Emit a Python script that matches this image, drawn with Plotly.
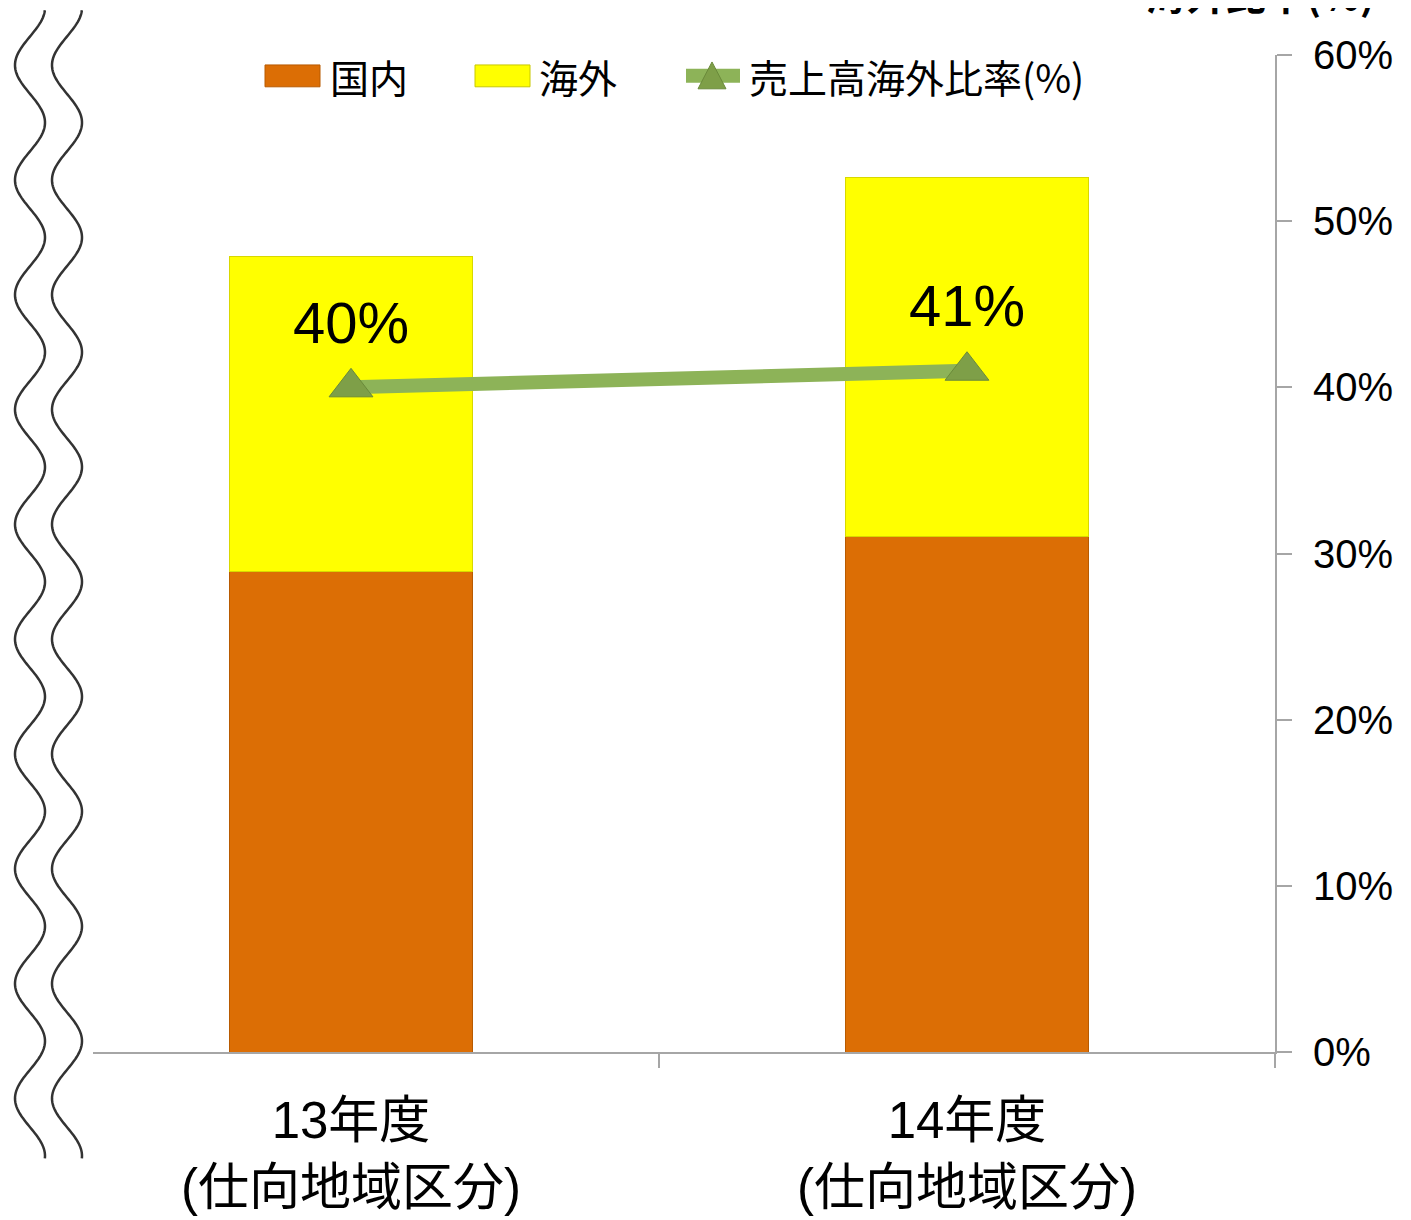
import numpy as np
import plotly.graph_objects as go

# ---- data ----
categories = ["13年度<br>(仕向地域区分)", "14年度<br>(仕向地域区分)"]
domestic = [2890, 3105]        # 国内
overseas = [1900, 2160]        # 海外
overseas_ratio = [0.40, 0.41]  # 売上高海外比率(%)
ratio_labels = ["40%", "41%"]
y2_ticks = [0, 0.1, 0.2, 0.3, 0.4, 0.5, 0.6]
legend_names = ["国内", "海外", "売上高海外比率(%)"]

# ---- geometry (page pixels; the page body keeps its default 8px margin) ----
W, H = 1411, 1220
OFF = 8
SY = 0.994            # small vertical shrink seen in the captured page


def yp(y):
    return y / SY


L, R = 43, 1275
T, B = yp(55), yp(1058)
pw, ph = R - L, B - T


def px(x):
    return (x - L) / pw


def py(y):
    return (B - yp(y)) / ph


FONT = "Liberation Sans, Arial, Noto Sans CJK JP, sans-serif"
CJK = "Noto Sans CJK JP, sans-serif"
ORANGE, YELLOW = "#DC6E05", "#FFFF00"
GREEN_LINE, GREEN_MARK = "#8DB358", "#7E9F48"

fig = go.Figure()
fig.add_trace(go.Bar(
    x=categories, y=domestic, name=legend_names[0],
    marker=dict(color=ORANGE, line=dict(color="#B85A00", width=1)),
    width=0.396,
))
fig.add_trace(go.Bar(
    x=categories, y=overseas, name=legend_names[1],
    marker=dict(color=YELLOW, line=dict(color="#D8D800", width=1)),
    width=0.396,
))
fig.add_trace(go.Scatter(
    x=categories, y=overseas_ratio, name=legend_names[2], yaxis="y2",
    mode="lines+markers",
    line=dict(color=GREEN_LINE, width=14),
    marker=dict(symbol="triangle-up", size=38, color=GREEN_MARK,
                line=dict(color="#6A8A3A", width=1)),
))

annotations = []
for c, v, t in zip(categories, overseas_ratio, ratio_labels):
    annotations.append(dict(
        x=c, y=v, xref="x", yref="y2", text=t, showarrow=False,
        yshift=65, font=dict(size=58, color="#000000", family=FONT),
    ))
annotations.append(dict(
    x=px(1260), y=py(-7), xref="paper", yref="paper", text="<b>海外比率(%)</b>",
    showarrow=False, xanchor="center", yanchor="middle",
    font=dict(size=40, color="#000000", family=CJK),
))

shapes = []
# ---- custom legend ----
leg_y = 76
for (x0, x1, col, edge), tx, name in zip(
        [(265, 320, ORANGE, "#B85A00"), (475, 530, YELLOW, "#C8C800")],
        [328, 537], legend_names[:2]):
    shapes.append(dict(type="rect", xref="paper", yref="paper",
                       x0=px(x0), x1=px(x1), y0=py(leg_y + 11), y1=py(leg_y - 11),
                       fillcolor=col, line=dict(color=edge, width=1)))
    annotations.append(dict(x=px(tx), y=py(leg_y), xref="paper", yref="paper",
                            text=name, showarrow=False, xanchor="left", yanchor="middle",
                            font=dict(size=39, color="#000000", family=CJK)))
shapes.append(dict(type="line", xref="paper", yref="paper",
                   x0=px(686), x1=px(740), y0=py(leg_y), y1=py(leg_y),
                   line=dict(color=GREEN_LINE, width=14)))
tri = (f"M {px(698):.5f},{py(leg_y + 13):.5f} L {px(726):.5f},{py(leg_y + 13):.5f} "
       f"L {px(712):.5f},{py(leg_y - 14):.5f} Z")
shapes.append(dict(type="path", xref="paper", yref="paper", path=tri,
                   fillcolor=GREEN_MARK, line=dict(color="#6A8A3A", width=1)))
annotations.append(dict(x=px(747), y=py(leg_y), xref="paper", yref="paper",
                        text=legend_names[2], showarrow=False, xanchor="left", yanchor="middle",
                        font=dict(size=39, color="#000000", family=CJK)))

# ---- break symbol (wavy lines) ----
shapes.append(dict(type="rect", xref="paper", yref="paper",
                   x0=px(OFF), x1=px(93), y0=py(1166), y1=py(OFF),
                   fillcolor="white", line=dict(width=0), layer="above"))
ys = np.linspace(10, 1165, 600)
P = 115.5
for cx in (30, 67):
    xs = cx + 15 * np.cos(2 * np.pi * (ys - 123) / P)
    path = "M " + " L ".join(f"{px(a):.5f},{py(b):.5f}" for a, b in zip(xs, ys))
    shapes.append(dict(type="path", xref="paper", yref="paper", path=path,
                       line=dict(color="#333333", width=2.5), layer="above"))

fig.update_layout(
    width=W, height=H,
    margin=dict(l=L - OFF, r=W - (R - OFF), t=T - OFF, b=H - (B - OFF), pad=0),
    barmode="stack", bargap=0.6,
    plot_bgcolor="white", paper_bgcolor="white",
    font=dict(family=FONT, color="#000000"),
    showlegend=False,
    xaxis=dict(
        type="category", showline=True, linecolor="#A6A6A6", linewidth=2,
        ticks="outside", tickson="boundaries", ticklen=14, tickcolor="#A6A6A6", tickwidth=2,
        tickfont=dict(size=51, family=FONT), showgrid=False, zeroline=False,
        ticklabelstandoff=23,
    ),
    yaxis=dict(range=[0, 6000], visible=False, showgrid=False, zeroline=False),
    yaxis2=dict(
        overlaying="y", side="right", range=[0, 0.6], tickvals=y2_ticks,
        tickformat=".0%", showline=True, linecolor="#A6A6A6", linewidth=2,
        ticks="outside", ticklen=15, tickcolor="#A6A6A6", tickwidth=2,
        tickfont=dict(size=40, family=FONT), showgrid=False, zeroline=False,
        ticklabelstandoff=13,
    ),
    annotations=annotations,
    shapes=shapes,
)

fig.write_html("out.html")
